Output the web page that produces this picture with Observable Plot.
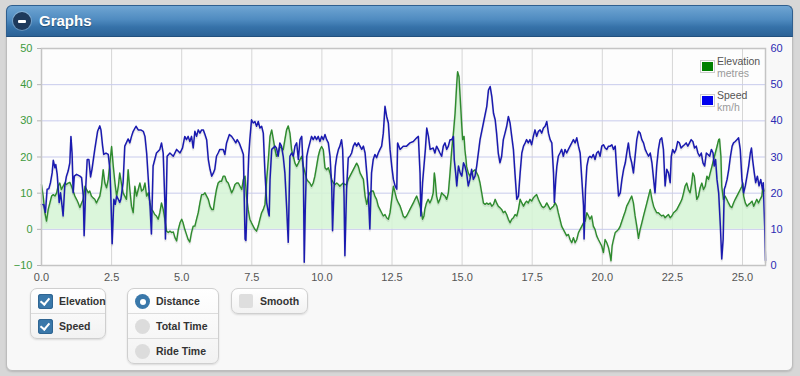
<!DOCTYPE html>
<html>
<head>
<meta charset="utf-8">
<script src="https://cdn.jsdelivr.net/npm/d3@7"></script>
<script src="https://cdn.jsdelivr.net/npm/@observablehq/plot@0.6"></script>
<style>
  html,body{margin:0;padding:0}
  body{width:800px;height:376px;background:#d7d7d7;font-family:"Liberation Sans",Arial,sans-serif;overflow:hidden;position:relative}
  #panel{position:absolute;left:6px;top:5px;width:787px;height:366px;box-sizing:border-box;background:#f8f8f8;border:1px solid #bdbdbd;border-radius:6px;box-shadow:0 1px 2px rgba(0,0,0,.15)}
  #header{position:absolute;left:6px;top:5px;width:787px;height:32px;box-sizing:border-box;border-radius:6px 6px 0 0;background:linear-gradient(#6fa5d3,#4f8bc0 45%,#3672a9 70%,#2c6296);border:1px solid #2f5f8f;border-bottom:1px solid #22507e}
  #header .icon{position:absolute;left:6px;top:6px;width:18px;height:18px;border-radius:50%;background:#1e3a5c;box-shadow:0 0 0 1px rgba(255,255,255,.25)}
  #header .icon:after{content:"";position:absolute;left:5px;top:7.5px;width:8px;height:3px;background:#fff;border-radius:1px}
  #header .title{position:absolute;left:32px;top:6px;color:#fff;font-weight:bold;font-size:15px;text-shadow:0 1px 1px rgba(0,0,0,.35)}
  #chart{position:absolute;left:0;top:40px}
  #legend{position:absolute;left:699px;top:55px;font-size:10.5px;line-height:12px;color:#545454}
  #legend .item{position:relative;padding-left:18px;height:28px;margin-bottom:6px}
  #legend .sw{position:absolute;left:1px;top:5px;width:11px;height:9px;border:1px solid #ccc;padding:1px}
  #legend .sw i{display:block;width:100%;height:100%}
  #legend .unit{color:#9a9a9a}
  .grp{position:absolute;box-sizing:border-box;border:1px solid #cfcfcf;border-radius:7px;background:linear-gradient(#ffffff,#f2f2f2);box-shadow:0 1px 2px rgba(0,0,0,.12);font-weight:bold;font-size:10.5px;color:#333}
  .row{position:relative;height:24px;line-height:24px;padding-left:28px;border-bottom:1px solid #dcdcdc}
  .row:last-child{border-bottom:none}
  .cb{position:absolute;left:7px;top:5px;width:15px;height:15px;border-radius:3px;background:#3a78aa;box-shadow:inset 0 0 0 1px #2f6592}
  .cb:after{content:"";position:absolute;left:4px;top:2px;width:4px;height:7px;border:solid #fff;border-width:0 2px 2px 0;transform:rotate(40deg)}
  .rd{position:absolute;left:7px;top:5px;width:15px;height:15px;border-radius:50%;background:#dcdcdc}
  .rd.on{background:#3a78aa}
  .rd.on:after{content:"";position:absolute;left:4.5px;top:4.5px;width:6px;height:6px;border-radius:50%;background:#fff}
  .sq{position:absolute;left:7px;top:5px;width:14px;height:14px;border-radius:2px;background:#dedede}
</style>
</head>
<body>
<div id="panel"></div>
<div id="header"><span class="icon"></span><span class="title">Graphs</span></div>
<div id="chart"></div>
<div id="legend"></div>
<div class="grp" id="g1" style="left:30px;top:288px;width:76px"></div>
<div class="grp" id="g2" style="left:127px;top:288px;width:92px"></div>
<div class="grp" id="g3" style="left:231px;top:288px;width:77px"></div>
<script>
// ---- data (distance in km) ----
const speedDist = [0.00,0.08,0.14,0.20,0.26,0.32,0.38,0.42,0.48,0.51,0.56,0.59,0.63,0.68,0.74,0.77,0.83,0.89,0.95,1.01,1.05,1.09,1.13,1.17,1.25,1.37,1.43,1.49,1.52,1.58,1.63,1.69,1.75,1.80,1.90,2.00,2.08,2.12,2.18,2.22,2.30,2.38,2.44,2.47,2.52,2.58,2.63,2.68,2.74,2.79,2.83,2.91,2.97,3.09,3.15,3.21,3.27,3.37,3.45,3.54,3.63,3.69,3.75,3.81,3.87,3.92,3.98,4.10,4.22,4.28,4.34,4.40,4.42,4.48,4.58,4.70,4.82,4.94,5.03,5.11,5.17,5.23,5.29,5.35,5.41,5.47,5.53,5.59,5.65,5.71,5.77,5.83,5.89,5.95,6.01,6.07,6.13,6.18,6.24,6.30,6.36,6.48,6.54,6.60,6.70,6.78,6.86,6.93,6.98,7.05,7.14,7.20,7.26,7.29,7.34,7.39,7.43,7.49,7.55,7.61,7.67,7.73,7.79,7.85,7.91,7.97,8.03,8.09,8.12,8.15,8.21,8.33,8.38,8.44,8.50,8.56,8.62,8.68,8.74,8.80,8.86,8.92,8.98,9.04,9.10,9.16,9.22,9.28,9.34,9.37,9.41,9.46,9.51,9.57,9.63,9.69,9.75,9.81,9.87,9.93,9.99,10.05,10.11,10.17,10.23,10.29,10.35,10.38,10.43,10.48,10.53,10.59,10.64,10.70,10.74,10.79,10.82,10.88,10.94,11.00,11.06,11.12,11.18,11.24,11.30,11.36,11.42,11.48,11.54,11.60,11.66,11.71,11.77,11.83,11.89,11.95,12.01,12.07,12.13,12.19,12.25,12.31,12.37,12.43,12.49,12.55,12.61,12.67,12.70,12.79,12.90,13.02,13.14,13.26,13.38,13.44,13.50,13.53,13.59,13.64,13.69,13.74,13.80,13.86,13.97,14.03,14.09,14.15,14.21,14.27,14.33,14.39,14.45,14.51,14.57,14.63,14.69,14.72,14.77,14.81,14.87,14.93,14.99,15.05,15.10,15.16,15.22,15.28,15.34,15.40,15.46,15.52,15.64,15.76,15.88,15.94,16.00,16.06,16.12,16.18,16.23,16.29,16.35,16.41,16.47,16.53,16.59,16.65,16.71,16.77,16.83,16.89,16.95,17.01,17.07,17.13,17.19,17.25,17.30,17.36,17.42,17.48,17.54,17.60,17.66,17.72,17.78,17.84,17.90,17.96,18.02,18.08,18.14,18.20,18.26,18.29,18.34,18.38,18.43,18.49,18.55,18.61,18.67,18.73,18.79,18.85,18.91,18.97,19.03,19.09,19.15,19.21,19.27,19.33,19.35,19.40,19.45,19.51,19.56,19.62,19.68,19.74,19.80,19.86,19.92,19.98,20.04,20.10,20.16,20.22,20.28,20.34,20.40,20.46,20.52,20.58,20.64,20.70,20.76,20.82,20.87,20.93,20.99,21.05,21.11,21.17,21.23,21.29,21.35,21.41,21.47,21.53,21.59,21.65,21.71,21.77,21.83,21.88,21.94,22.00,22.06,22.12,22.18,22.24,22.30,22.36,22.42,22.46,22.51,22.57,22.63,22.69,22.75,22.81,22.87,22.93,22.99,23.05,23.11,23.17,23.23,23.29,23.35,23.41,23.47,23.53,23.59,23.65,23.71,23.77,23.83,23.89,23.95,23.99,24.04,24.09,24.15,24.21,24.26,24.31,24.35,24.39,24.45,24.51,24.57,24.63,24.68,24.74,24.80,24.86,24.92,24.98,25.04,25.10,25.16,25.22,25.28,25.32,25.36,25.42,25.47,25.53,25.59,25.65,25.71,25.74,25.79,25.82];
const speedKmh = [16.9,16.8,14.7,21.1,21.2,22.9,25.6,29.1,27.0,27.9,25.2,22.0,17.4,20.1,16.0,13.7,22.0,24.7,26.1,28.4,35.7,31.1,20.1,24.7,25.2,24.7,24.3,19.2,8.2,22.0,29.3,29.3,24.5,26.6,32.1,37.1,38.6,37.5,33.0,30.7,31.1,30.7,26.6,20.1,6.0,18.3,16.9,19.2,18.3,17.4,18.3,22.9,33.0,35.0,33.9,35.7,37.1,38.5,37.5,37.5,37.1,35.7,31.1,23.8,16.5,8.7,27.5,31.1,32.1,33.9,31.1,17.4,7.3,30.2,31.1,30.2,32.1,31.1,32.5,35.7,34.8,35.7,34.3,35.7,32.5,37.1,35.7,37.5,36.6,37.5,37.5,36.2,34.8,29.3,26.6,24.7,25.6,26.6,30.2,31.1,32.1,32.1,30.7,33.9,36.2,35.7,34.8,33.9,34.8,33.9,32.1,30.7,7.3,6.9,19.2,30.2,34.8,40.3,39.4,39.8,38.5,39.8,38.0,38.5,36.6,25.6,17.4,14.7,13.7,23.8,32.1,33.0,32.5,30.2,33.9,33.0,30.2,25.6,16.5,6.4,30.2,31.1,30.2,33.0,33.9,29.3,34.8,35.7,25.6,0.9,16.5,30.2,32.1,33.9,35.7,34.8,35.7,34.8,35.7,34.3,35.7,34.8,36.2,34.8,33.9,30.2,22.0,9.6,21.1,27.5,30.2,32.1,33.0,34.8,32.1,19.2,2.7,21.1,29.8,30.2,31.1,33.0,33.9,33.0,33.9,33.0,32.1,33.0,31.1,25.6,19.2,10.1,25.6,29.3,30.7,29.8,31.1,32.1,33.0,36.6,44.0,41.2,39.4,32.1,27.5,23.8,22.0,21.1,33.9,32.1,33.0,33.0,33.9,34.3,35.3,35.7,25.6,13.7,22.9,27.5,32.1,38.0,35.7,32.1,32.5,31.1,33.0,32.1,31.1,30.2,33.0,33.9,32.1,33.0,34.8,34.8,35.7,29.3,25.6,22.0,27.5,25.6,24.7,28.4,27.5,25.6,22.0,23.8,26.6,23.8,24.7,27.5,34.8,39.4,44.0,48.5,49.5,46.7,42.1,40.3,36.6,31.1,28.4,30.2,34.8,36.6,38.5,41.2,39.4,35.7,32.1,25.0,18.3,19.2,25.6,31.1,33.0,33.9,34.8,33.9,34.8,33.4,35.7,37.5,35.7,37.1,37.5,36.6,38.0,38.5,39.8,36.6,34.8,33.9,25.6,17.4,23.8,27.5,30.2,31.1,32.1,30.2,32.1,31.1,32.1,33.0,33.9,34.8,33.9,35.3,33.0,31.1,23.8,16.5,7.3,21.1,27.5,29.8,30.2,29.8,30.7,29.3,31.1,31.6,30.2,33.0,33.4,32.5,32.1,33.0,33.0,33.4,32.1,33.0,25.6,19.2,20.1,23.8,26.6,28.4,31.1,33.9,30.2,28.4,25.6,30.2,34.8,37.1,36.6,34.8,33.9,32.1,31.1,30.2,31.1,28.4,23.8,20.1,27.5,32.1,34.8,35.3,32.1,22.0,26.6,25.6,22.9,30.2,32.1,31.1,32.1,34.3,33.9,32.5,33.0,33.4,33.9,33.0,33.9,34.8,34.3,32.5,33.0,31.1,30.2,31.1,28.4,27.5,31.1,30.7,30.2,32.1,31.1,27.5,29.3,23.8,20.1,11.0,1.8,7.3,21.1,22.0,23.8,26.6,30.2,33.0,33.9,34.3,34.8,35.3,32.1,23.8,20.1,22.0,24.7,27.5,31.1,32.5,29.3,25.6,22.9,24.7,22.0,23.8,21.1,22.9,11.0,1.4];

const elevDist = [0.00,0.06,0.12,0.18,0.24,0.30,0.36,0.42,0.48,0.54,0.59,0.65,0.71,0.77,0.83,0.89,0.95,1.01,1.07,1.13,1.19,1.25,1.31,1.37,1.43,1.49,1.55,1.61,1.67,1.72,1.78,1.84,1.90,1.96,2.02,2.08,2.14,2.20,2.26,2.32,2.38,2.44,2.50,2.56,2.62,2.68,2.74,2.79,2.85,2.91,2.97,3.03,3.09,3.15,3.21,3.27,3.33,3.39,3.45,3.51,3.57,3.63,3.69,3.75,3.81,3.87,3.92,3.98,4.04,4.10,4.16,4.22,4.28,4.34,4.40,4.46,4.52,4.58,4.64,4.70,4.76,4.82,4.88,4.94,5.00,5.05,5.11,5.17,5.23,5.29,5.35,5.41,5.47,5.53,5.59,5.65,5.71,5.77,5.83,5.89,5.95,6.01,6.07,6.13,6.18,6.24,6.30,6.36,6.42,6.48,6.54,6.60,6.66,6.72,6.78,6.84,6.90,6.96,7.02,7.08,7.14,7.20,7.26,7.31,7.37,7.43,7.49,7.55,7.61,7.67,7.73,7.79,7.85,7.91,7.97,8.03,8.09,8.15,8.21,8.27,8.33,8.38,8.44,8.50,8.62,8.68,8.74,8.80,8.86,8.92,8.98,9.04,9.10,9.16,9.22,9.28,9.34,9.40,9.46,9.51,9.57,9.63,9.69,9.75,9.81,9.87,9.93,9.99,10.05,10.11,10.17,10.23,10.29,10.35,10.41,10.47,10.53,10.59,10.64,10.70,10.76,10.82,10.88,10.94,11.00,11.06,11.12,11.18,11.24,11.30,11.36,11.42,11.48,11.54,11.60,11.66,11.71,11.77,11.83,11.89,11.95,12.01,12.07,12.13,12.19,12.25,12.31,12.37,12.43,12.49,12.55,12.61,12.67,12.73,12.79,12.85,12.90,12.96,13.02,13.08,13.14,13.20,13.26,13.32,13.38,13.44,13.50,13.56,13.59,13.64,13.67,13.73,13.79,13.85,13.91,13.97,14.01,14.04,14.09,14.15,14.21,14.27,14.33,14.39,14.45,14.51,14.57,14.63,14.69,14.75,14.81,14.84,14.89,14.93,14.99,15.02,15.07,15.10,15.14,15.16,15.22,15.28,15.34,15.40,15.46,15.52,15.58,15.64,15.70,15.76,15.82,15.88,15.94,16.00,16.06,16.12,16.18,16.23,16.29,16.35,16.41,16.47,16.53,16.59,16.65,16.71,16.77,16.83,16.89,16.95,17.01,17.07,17.13,17.19,17.25,17.30,17.36,17.42,17.48,17.54,17.60,17.66,17.72,17.78,17.84,17.90,17.96,18.02,18.08,18.14,18.20,18.26,18.32,18.38,18.43,18.49,18.55,18.61,18.67,18.73,18.79,18.85,18.91,18.97,19.03,19.09,19.15,19.21,19.27,19.33,19.39,19.45,19.51,19.56,19.62,19.68,19.74,19.80,19.86,19.92,19.98,20.04,20.10,20.16,20.22,20.28,20.31,20.35,20.40,20.46,20.52,20.58,20.64,20.70,20.76,20.82,20.87,20.93,20.99,21.05,21.11,21.17,21.23,21.29,21.35,21.41,21.47,21.53,21.59,21.65,21.71,21.77,21.83,21.88,21.94,22.00,22.06,22.12,22.18,22.24,22.30,22.36,22.42,22.48,22.54,22.60,22.66,22.72,22.78,22.84,22.90,22.95,23.01,23.07,23.13,23.19,23.23,23.28,23.33,23.37,23.43,23.49,23.55,23.61,23.67,23.73,23.79,23.85,23.91,23.97,24.03,24.09,24.15,24.18,24.23,24.26,24.32,24.38,24.44,24.50,24.56,24.62,24.68,24.74,24.80,24.86,24.92,24.98,25.01,25.04,25.10,25.16,25.22,25.28,25.34,25.40,25.45,25.51,25.57,25.63,25.69,25.73,25.77];
const elevM = [12.4,9.2,4.6,2.3,5.5,7.3,9.2,9.6,9.2,10.1,11.9,12.8,11.0,11.9,12.8,12.4,12.8,13.0,11.9,10.6,9.2,8.3,7.3,6.0,7.3,8.3,11.9,11.0,10.1,10.6,9.2,8.7,8.3,7.3,8.3,9.2,11.9,16.5,12.8,11.5,13.8,18.3,22.9,17.4,12.8,9.2,11.9,15.6,12.8,10.1,9.2,8.3,16.5,11.0,6.4,4.6,11.9,9.2,11.0,12.8,10.6,11.0,12.8,9.2,10.1,7.3,5.5,5.0,4.1,3.7,2.8,4.6,7.3,5.5,2.8,-0.5,-0.9,-0.5,-0.9,-0.7,-2.3,-3.2,0.0,1.8,2.8,1.8,0.0,-1.4,-2.8,-3.5,-0.9,0.9,0.9,2.8,4.6,7.3,9.6,9.6,10.1,9.2,8.3,6.4,5.5,5.5,8.3,11.0,12.8,13.3,13.3,14.7,14.7,13.3,12.8,11.5,10.1,11.0,12.4,12.8,12.8,11.9,11.0,13.8,14.7,9.2,5.5,2.8,1.8,0.9,0.0,-0.5,0.9,2.8,4.6,5.5,6.9,13.8,19.3,25.7,27.5,24.8,22.0,20.2,21.1,22.9,22.0,24.8,27.5,28.6,26.6,22.0,20.2,18.3,17.4,18.3,19.3,20.2,17.4,15.6,13.8,13.3,12.8,11.9,12.8,14.7,17.4,20.2,22.0,22.9,22.0,17.0,16.5,17.0,15.6,13.8,12.8,12.4,12.8,12.4,11.9,12.4,12.8,12.4,12.4,13.8,14.7,15.6,16.5,17.4,18.3,17.4,15.6,14.7,13.8,9.2,6.9,9.2,10.1,10.6,10.6,9.2,8.3,6.4,5.5,4.6,3.7,4.1,3.2,2.8,4.6,8.3,11.9,10.1,8.3,7.3,6.4,5.0,3.7,3.2,3.7,4.6,5.5,6.4,7.3,8.3,9.2,7.8,6.4,4.6,2.8,3.7,5.5,7.3,8.3,7.3,8.3,10.1,15.6,13.8,9.2,7.3,8.3,10.1,9.6,9.2,8.3,10.1,15.6,22.0,26.6,32.1,40.4,43.6,42.2,36.7,28.4,24.8,25.7,22.0,19.3,17.4,15.6,14.7,15.6,16.1,16.5,15.6,14.7,12.8,10.1,7.3,6.9,7.3,6.9,7.3,6.4,6.9,8.3,7.3,6.4,6.0,5.5,4.6,5.0,4.1,2.8,1.8,2.8,3.2,4.1,3.7,5.5,8.3,7.3,6.4,7.3,7.8,7.3,8.3,7.8,8.7,9.2,9.6,8.3,7.3,6.4,6.0,6.4,7.3,6.4,5.5,6.0,6.4,7.3,6.4,4.6,2.8,0.9,0.0,-0.9,-1.8,-1.4,-2.8,-3.7,-2.3,-3.7,-2.8,-0.9,0.0,0.9,1.8,2.3,4.6,3.7,2.8,3.7,0.9,0.0,-1.8,-2.8,-3.7,-4.6,-6.4,-2.8,-3.7,-5.0,-7.3,-8.7,-4.6,-2.8,-0.9,-0.5,0.0,0.9,2.3,3.7,5.0,6.4,7.3,8.3,9.2,7.3,3.7,0.9,-2.5,0.0,1.8,3.7,5.5,7.3,9.2,11.0,8.3,6.4,5.5,4.6,4.6,4.1,3.7,3.9,3.2,3.7,4.1,3.2,3.7,4.6,5.0,5.5,6.4,7.3,8.3,10.1,11.9,12.8,11.0,10.1,12.8,15.6,14.7,11.0,8.3,9.2,11.5,12.8,11.0,11.9,14.7,13.8,15.6,17.4,19.3,21.1,22.9,24.8,25.0,20.2,11.9,8.3,9.2,8.3,7.3,6.4,6.0,7.3,8.3,9.2,10.1,11.0,11.9,12.8,9.2,7.3,6.4,6.9,7.3,7.8,6.4,7.3,8.3,7.3,8.3,9.2,11.9,10.6];

const xTicks = [0, 2.5, 5, 7.5, 10, 12.5, 15, 17.5, 20, 22.5, 25];
const elevTicks = [-10, 0, 10, 20, 30, 40, 50];
const speedTicks = [0, 10, 20, 30, 40, 50, 60];
const seriesNames = ["Elevation", "Speed"];
const seriesUnits = ["metres", "km/h"];
const seriesSwatch = ["#008000", "#0000ee"];
const checkLabels = ["Elevation", "Speed"];
const axisModes = ["Distance", "Total Time", "Ride Time"];
const smoothLabel = "Smooth";

// ---- tables ----
const elev = elevDist.map((d, i) => ({d, e: elevM[i]}));
const speed = speedDist.map((d, i) => ({d, s: speedKmh[i]}));

// speed axis (0..60) mapped onto the elevation axis (-10..50)
const speedToElev = d3.scaleLinear().domain([0, 60]).range([-10, 50]);

const green = "#2e8b2e", blue = "#1a1ab0";

const chart = Plot.plot({
  width: 800,
  height: 247,
  marginLeft: 41,
  marginRight: 35,
  marginTop: 8,
  marginBottom: 22,
  style: {background: "transparent", fontFamily: "'Liberation Sans', Arial, sans-serif", fontSize: "11px"},
  x: {domain: [0, 25.82]},
  y: {domain: [-10, 50]},
  marks: [
    Plot.frame({fill: "#fdfdfd", stroke: "none"}),
    Plot.gridX(xTicks, {stroke: "#d6d6d6", strokeOpacity: 1}),
    Plot.gridY(elevTicks, {stroke: "#c8cbec", strokeOpacity: 1}),
    Plot.areaY(elev, {x: "d", y1: 0, y2: (r) => Math.max(0, r.e), fill: "#d5f5d5", fillOpacity: 0.85}),
    Plot.lineY(elev, {x: "d", y: "e", stroke: "#000", strokeOpacity: 0.08, strokeWidth: 2.5, dy: 1.5}),
    Plot.lineY(elev, {x: "d", y: "e", stroke: green, strokeWidth: 1.4}),
    Plot.lineY(speed, {x: "d", y: (r) => speedToElev(r.s), stroke: "#000", strokeOpacity: 0.08, strokeWidth: 2.5, dy: 1.5}),
    Plot.lineY(speed, {x: "d", y: (r) => speedToElev(r.s), stroke: blue, strokeWidth: 1.5}),
    Plot.frame({stroke: "#c4c4c4", strokeWidth: 1.5}),
    Plot.axisY(elevTicks, {anchor: "left", tickSize: 4, tickPadding: 5, stroke: "#b5b5b5", fill: "#3d9a3d", label: null}),
    Plot.axisY(speedTicks.map(speedToElev), {anchor: "right", tickSize: 0, tickPadding: 5, fill: "#2b2bb3", label: null, tickFormat: (v) => String(Math.round(speedToElev.invert(v)))}),
    Plot.axisX(xTicks, {anchor: "bottom", tickSize: 0, tickPadding: 8, fill: "#555", label: null, tickFormat: d3.format(".1f")})
  ]
});
document.getElementById("chart").appendChild(chart);

// ---- legend ----
const lg = document.getElementById("legend");
seriesNames.forEach((n, i) => {
  const it = document.createElement("div");
  it.className = "item";
  it.innerHTML = `<span class="sw"><i style="background:${seriesSwatch[i]}"></i></span>${n}<br><span class="unit">${seriesUnits[i]}</span>`;
  lg.appendChild(it);
});

// ---- controls ----
const g1 = document.getElementById("g1");
checkLabels.forEach(t => { g1.insertAdjacentHTML("beforeend", `<div class="row"><span class="cb"></span>${t}</div>`); });
const g2 = document.getElementById("g2");
axisModes.forEach((t, i) => { g2.insertAdjacentHTML("beforeend", `<div class="row"><span class="rd${i === 0 ? " on" : ""}"></span>${t}</div>`); });
document.getElementById("g3").insertAdjacentHTML("beforeend", `<div class="row"><span class="sq"></span>${smoothLabel}</div>`);
</script>
</body>
</html>
